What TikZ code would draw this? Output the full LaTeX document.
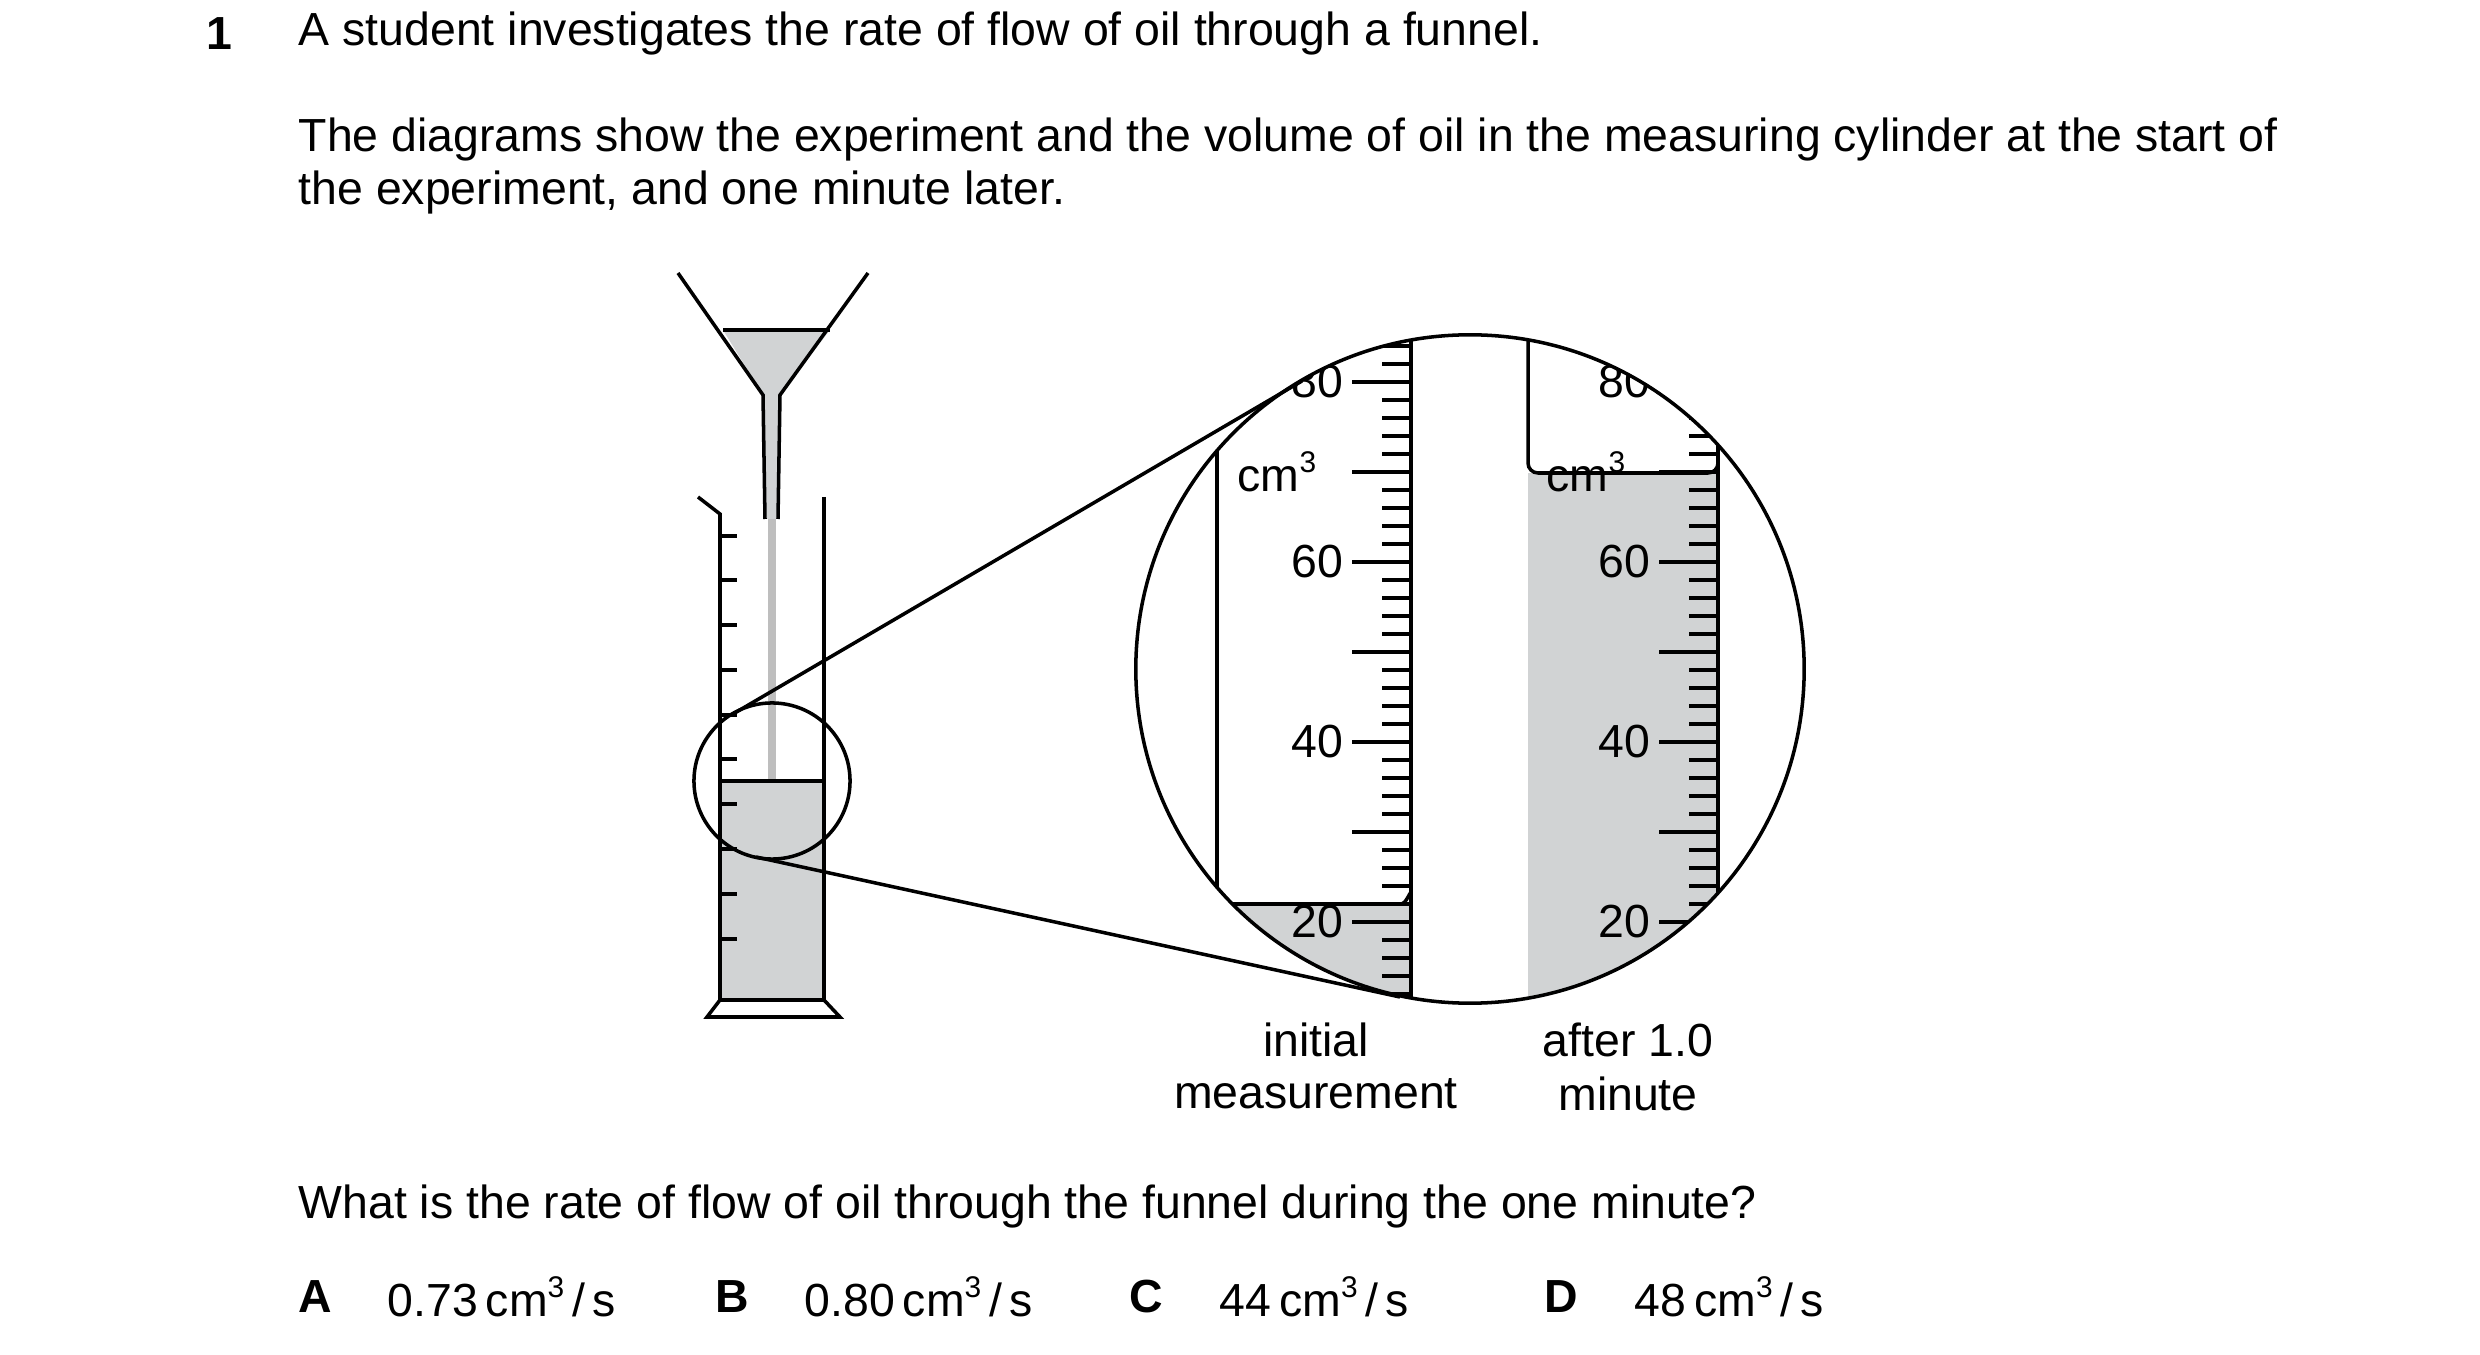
\documentclass[tikz,border=0pt]{standalone}
\usepackage{fontspec}
\setmainfont{Liberation Sans}
\newcommand{\cmc}{cm\raisebox{0.42em}{\fontsize{8.5}{9}\selectfont 3}}
\begin{document}
\begin{tikzpicture}[x=0.01cm,y=-0.01cm,line width=1pt,
  txt/.style={font=\fontsize{13.2}{15}\selectfont,inner sep=0pt},
  btxt/.style={font=\fontsize{13.2}{15}\selectfont\bfseries,inner sep=0pt}]
\definecolor{oilgray}{HTML}{D1D3D4}
\definecolor{streamgray}{HTML}{BEBEBE}
\useasboundingbox (0,0) rectangle (2480,1355);
% texts
\node[btxt] (num) at (219,34) {1};
\node[txt,anchor=west] (q1) at (297,34) {A student investigates the rate of flow of oil through a funnel.};
\node[txt,anchor=west] (q2) at (297,140) {The diagrams show the experiment and the volume of oil in the measuring cylinder at the start of};
\node[txt,anchor=west] (q3) at (297,193) {the experiment, and one minute later.};
\node[txt,anchor=west] (q4) at (297,1206) {What is the rate of flow of oil through the funnel during the one minute?};
\node[btxt,anchor=west] (la) at (297,1297) {A};
\node[txt,anchor=west] (va) at (386,1297) {0.73\,\cmc\,/\,s};
\node[btxt,anchor=west] (lb) at (714,1297) {B};
\node[txt,anchor=west] (vb) at (803,1297) {0.80\,\cmc\,/\,s};
\node[btxt,anchor=west] (lc) at (1128,1297) {C};
\node[txt,anchor=west] (vc) at (1218,1297) {44\,\cmc\,/\,s};
\node[btxt,anchor=west] (ld) at (1543,1297) {D};
\node[txt,anchor=west] (vd) at (1633,1297) {48\,\cmc\,/\,s};
\node[txt] (c1a) at (1316,1040) {initial};
\node[txt] (c1b) at (1316,1094) {measurement};
\node[txt] (c2a) at (1628,1040) {after 1.0};
\node[txt] (c2b) at (1628,1094) {minute};
% funnel
\fill[oilgray] (723,330) -- (830,330) -- (780,395) -- (778,519) -- (765,519) -- (763,395) -- cycle;
\draw (678,273) -- (763,395) -- (765,519);
\draw (868,273) -- (780,395) -- (778,519);
\draw (723,330) -- (830,330);
% stream
\draw[streamgray,line width=2.2pt] (772,519) -- (772,781);
% cylinder
\fill[oilgray] (720,781) rectangle (824,1000);
\draw (720,781) -- (824,781);
\draw (698,497) -- (720,514) -- (720,1000);
\draw (824,497) -- (824,1000);
\draw (720,1000) -- (707,1017) -- (840,1017) -- (824,1000) -- cycle;
\foreach \yy in {536,580,625,670,715,759,804,849,894,939}
  \draw (720,\yy) -- (737,\yy);
% small circle
\node[circle,draw,minimum size=1.56cm,inner sep=0pt] (spot) at (772,781) {};
% magnified
\coordinate (mc) at (1470,669);
\begin{scope}
\clip (mc) circle[radius=334];
\fill[oilgray] (1217,904) rectangle (1411,1010);
\fill[oilgray] (1528,473) rectangle (1718,1010);
\draw (1217,300) -- (1217,894) to[out=90,in=180] (1227,904) -- (1401,904) to[out=0,in=90] (1411,894);
\draw (1528,300) -- (1528,463) to[out=-90,in=180] (1538,473) -- (1708,473) to[out=0,in=-90] (1718,463);
\draw (1411,300) -- (1411,1010);
\draw (1718,300) -- (1718,1010);
\foreach \v in {0,2,...,90}{
  \pgfmathsetmacro{\len}{mod(\v,10)==0?59:29}
  \draw (1411-\len,1102-9*\v) -- (1411,1102-9*\v);
  \draw (1718-\len,1102-9*\v) -- (1718,1102-9*\v);
}
\foreach \v in {20,40,60,80}{
  \node[txt,anchor=east] at (1345,1102-9*\v) {\v};
  \node[txt,anchor=east] at (1652,1102-9*\v) {\v};
}
\node[txt,anchor=west] (u1) at (1236,472) {\cmc};
\node[txt,anchor=west] (u2) at (1545,472) {\cmc};
\end{scope}
\node[circle,draw,minimum size=6.68cm,inner sep=0pt] (mag) at (mc) {};
\coordinate (t1) at (733,714);
\coordinate (t2) at (1302,381);
\coordinate (b1) at (756,857);
\coordinate (b2) at (1400,997);
\draw (t1) -- (t2);
\draw (b1) -- (b2);
\end{tikzpicture}
\end{document}
